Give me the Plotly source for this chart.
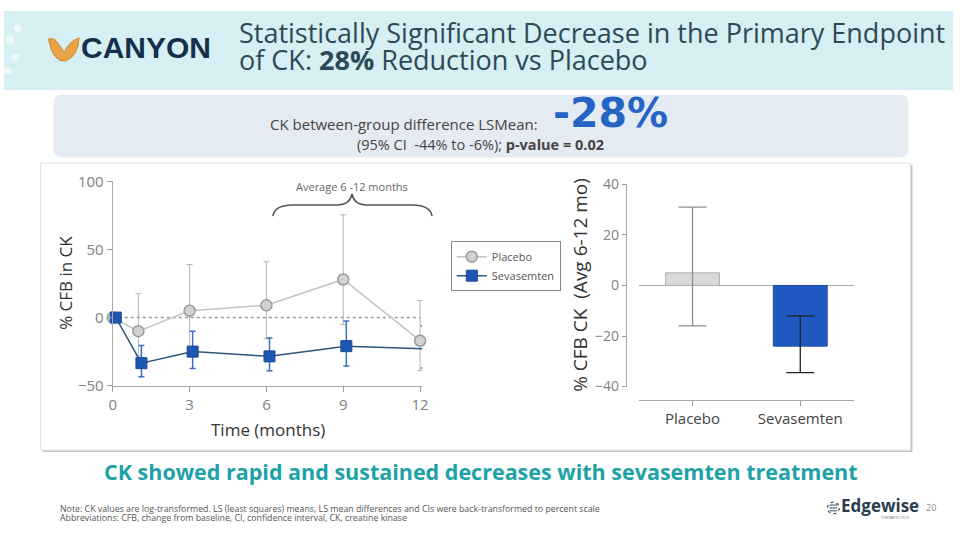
import plotly.graph_objects as go

W, H = 960, 541

# ---------------- data ----------------
months_placebo = [0, 1, 3, 6, 9, 12]
placebo_mean = [0, -10, 5, 9, 28, -17]
placebo_upper = [0, 17.5, 39, 41, 75.5, 12.5]
placebo_lower = [0, -28, -22, -15.5, -5, -39]

months_sev = [0.12, 1.12, 3.12, 6.12, 9.12, 12.14]
sev_mean = [0, -33.5, -25, -28.5, -21, -23]
sev_upper = [0, -20.5, -10, -15, -2.5, -6]
sev_lower = [0, -43.5, -37.5, -39, -35.5, -37]

x_ticks = [0, 3, 6, 9, 12]
y_ticks_line = [-50, 0, 50, 100]

bar_categories = ["Placebo", "Sevasemten"]
bar_values = [5, -24]
bar_upper = [31, -12]
bar_lower = [-16, -34.5]
y_ticks_bar = [-40, -20, 0, 20, 40]


def fx(x):
    return x / W


def fy(y):
    return 1 - y / H


def ppath(cmds):
    out = []
    for c in cmds:
        if isinstance(c, str):
            out.append(c)
        else:
            out.append(f"{fx(c[0]):.5f},{fy(c[1]):.5f}")
    return " ".join(out)


fig = go.Figure()

# ---------------- line chart ----------------
fig.add_trace(go.Scatter(
    x=months_placebo, y=placebo_mean, name="Placebo", mode="lines+markers",
    line=dict(color="#c4c4c4", width=1.5),
    marker=dict(symbol="circle", size=11, color="#d2d2d2", line=dict(color="#9a9a9a", width=1.5)),
    error_y=dict(type="data", symmetric=False,
                 array=[u - m for u, m in zip(placebo_upper, placebo_mean)],
                 arrayminus=[m - l for m, l in zip(placebo_mean, placebo_lower)],
                 color="#b5b5b5", thickness=1, width=3),
    cliponaxis=False, xaxis="x", yaxis="y",
))
fig.add_trace(go.Scatter(
    x=months_sev, y=sev_mean, name="Sevasemten", mode="lines+markers",
    line=dict(color="#30557a", width=1.5),
    marker=dict(symbol="square", size=11, color="#1f56b4", line=dict(color="#1a4a9a", width=1)),
    error_y=dict(type="data", symmetric=False,
                 array=[u - m for u, m in zip(sev_upper, sev_mean)],
                 arrayminus=[m - l for m, l in zip(sev_mean, sev_lower)],
                 color="#3b6fc4", thickness=1.5, width=3),
    cliponaxis=False, xaxis="x", yaxis="y",
))

# ---------------- bar chart ----------------
bar_fill = ["#d9d9d9", "#1f58c1"]
bar_line = ["#b0b0b0", "#1a4ea8"]
err_col = ["#8f8f8f", "#222222"]
for i, cat in enumerate(bar_categories):
    fig.add_trace(go.Bar(
        x=[cat], y=[bar_values[i]], width=0.5, showlegend=False,
        marker=dict(color=bar_fill[i], line=dict(color=bar_line[i], width=1)),
        error_y=dict(type="data", symmetric=False,
                     array=[bar_upper[i] - bar_values[i]],
                     arrayminus=[bar_values[i] - bar_lower[i]],
                     color=err_col[i], thickness=1.3, width=14),
        xaxis="x2", yaxis="y2", cliponaxis=False,
    ))

shapes = []
# header band
shapes.append(dict(type="rect", xref="paper", yref="paper", x0=0, x1=1, y0=fy(82), y1=1,
                   fillcolor="#d5eff3", line=dict(width=0), layer="below"))
# summary box (rounded)
r = 9
x0, x1, y0, y1 = 50, 915, 87, 152
shapes.append(dict(type="path", xref="paper", yref="paper", layer="below",
                   path=ppath(["M", (x0 + r, y0), "L", (x1 - r, y0), "Q", (x1, y0), (x1, y0 + r),
                               "L", (x1, y1 - r), "Q", (x1, y1), (x1 - r, y1),
                               "L", (x0 + r, y1), "Q", (x0, y1), (x0, y1 - r),
                               "L", (x0, y0 + r), "Q", (x0, y0), (x0 + r, y0), "Z"]),
                   fillcolor="#e4ebf3", line=dict(width=0)))
# panel shadow + panel
shapes.append(dict(type="rect", xref="paper", yref="paper", layer="below",
                   x0=fx(39), x1=fx(919), y0=fy(458), y1=fy(160),
                   fillcolor="#c4c4c4", line=dict(width=0)))
shapes.append(dict(type="rect", xref="paper", yref="paper", layer="below",
                   x0=fx(37), x1=fx(917), y0=fy(456), y1=fy(158),
                   fillcolor="#ffffff", line=dict(color="#e2e2e2", width=1)))
# dotted zero line in line chart
shapes.append(dict(type="line", xref="x", yref="y", x0=0, x1=12, y0=0, y1=0,
                   line=dict(color="#9a9a9a", width=1.5, dash="dot"), layer="below"))
# brace
shapes.append(dict(type="path", xref="paper", yref="paper",
                   path=ppath(["M", (272, 213), "Q", (274, 201.5), (292, 201.5), "L", (337, 201.5),
                               "Q", (350, 201.5), (352, 190), "Q", (354, 201.5), (367, 201.5),
                               "L", (413, 201.5), "Q", (431, 201.5), (433, 213)]),
                   line=dict(color="#555555", width=1.6)))
# CANYON logo icon
shapes.append(dict(type="path", xref="paper", yref="paper",
                   path=ppath(["M", (45, 29), "Q", (51, 27), (55, 34), "L", (61, 43),
                               "Q", (66, 31), (76, 28), "Q", (75, 47), (62, 52),
                               "Q", (49, 53), (45, 29), "Z"]),
                   fillcolor="#e9a346", line=dict(color="#d08a30", width=1)))
# faint network decoration
for (cx, cy) in [(6, 30), (12, 48), (4, 62), (14, 18)]:
    shapes.append(dict(type="circle", xref="paper", yref="paper",
                       x0=fx(cx - 4), x1=fx(cx + 4), y0=fy(cy + 4), y1=fy(cy - 4),
                       fillcolor="rgba(255,255,255,0.6)", line=dict(width=0)))
# Edgewise icon
shapes.append(dict(type="circle", xref="paper", yref="paper",
                   x0=fx(833), x1=fx(845), y0=fy(522), y1=fy(510),
                   line=dict(color="#3a4f60", width=1.2, dash="dot")))
for yy in [513, 516, 519]:
    shapes.append(dict(type="line", xref="paper", yref="paper",
                       x0=fx(835), x1=fx(843), y0=fy(yy), y1=fy(yy),
                       line=dict(color="#3a4f60", width=1)))

annotations = []


def txt(text, x, y, size, color, xanchor="left", family="Open Sans", angle=0, yanchor="middle"):
    annotations.append(dict(text=text, x=fx(x), y=fy(y), xref="paper", yref="paper",
                            xanchor=xanchor, yanchor=yanchor, showarrow=False, textangle=angle,
                            borderpad=0,
                            font=dict(size=size, color=color, family=family)))


# header
txt("<b>CANYON</b>", 77, 38, 30, "#15304a", family="Liberation Sans")
txt("Statistically Significant Decrease in the Primary Endpoint", 237, 22, 27, "#2c4a56")
txt("of CK: <b>28%</b> Reduction vs Placebo", 237, 50, 27, "#2c4a56")
# summary box
txt("CK between-group difference LSMean:", 541, 117, 15, "#444444", xanchor="right")
txt("<b>-28%</b>", 614, 106, 41, "#2563c4", xanchor="center", family="DejaVu Sans")
txt("(95% CI  -44% to -6%); <b>p-value = 0.02</b>", 482, 139, 14.5, "#444444", xanchor="center")
# line chart text
txt("Average 6 -12 months", 352, 182, 11, "#666666", xanchor="center")
txt("% CFB in CK", 62, 282, 17, "#333333", xanchor="center", angle=-90)
txt("Time (months)", 267, 435, 17, "#333333", xanchor="center")
# bar chart y title
txt("% CFB CK\u00a0 (Avg 6-12 mo)", 582, 284, 19, "#333333", xanchor="center", angle=-90)
# bottom messages
txt("<b>CK showed rapid and sustained decreases with sevasemten treatment</b>", 483, 478, 21.5,
    "#1ca2a7", xanchor="center")
txt("Note: CK values are log-transformed. LS (least squares) means, LS mean differences and CIs were back-transformed to percent scale",
    56, 517, 8.8, "#555555")
txt("Abbreviations: CFB, change from baseline, CI, confidence interval, CK, creatine kinase",
    56, 526, 8.8, "#555555")
txt("<b>Edgewise</b>", 846, 514, 17, "#2b3d4f")
txt("THERAPEUTICS", 901, 526, 4, "#6a7a88", xanchor="center")
txt("20", 938, 516, 9, "#8a8a8a", xanchor="center")

axis_common = dict(showgrid=False, zeroline=False, ticks="outside", ticklen=5,
                   tickcolor="#9a9a9a", linecolor="#a8a8a8", showline=True, linewidth=1.2)

fig.update_layout(
    width=W, height=H, margin=dict(l=0, r=0, t=0, b=0),
    paper_bgcolor="#ffffff", plot_bgcolor="rgba(0,0,0,0)",
    font=dict(family="Open Sans", color="#444444"),
    barmode="overlay",
    shapes=shapes, annotations=annotations,
    xaxis=dict(domain=[fx(110), fx(423)], range=[0, 12.08], tickvals=x_ticks,
               tickfont=dict(size=15, color="#808080"), anchor="y", **axis_common),
    yaxis=dict(domain=[fy(389), fy(177)], range=[-50, 100], tickvals=y_ticks_line,
               tickfont=dict(size=15, color="#808080"), anchor="x", **axis_common),
    xaxis2=dict(domain=[fx(642), fx(860)], range=[-0.5, 1.5], type="category",
                anchor="free", position=fy(404),
                tickfont=dict(size=15, color="#444444"), **axis_common),
    yaxis2=dict(domain=[fy(390), fy(180)], range=[-40, 40], tickvals=y_ticks_bar,
                anchor="free", position=fx(629),
                tickfont=dict(size=14, color="#808080"),
                showgrid=False, ticks="outside", ticklen=4, tickcolor="#9a9a9a",
                linecolor="#a8a8a8", showline=True, linewidth=1.2,
                zeroline=True, zerolinecolor="#a8a8a8", zerolinewidth=1.2),
    legend=dict(x=fx(452), y=fy(239), xanchor="left", yanchor="top",
                bordercolor="#888888", borderwidth=1, bgcolor="rgba(255,255,255,1)",
                font=dict(size=11, color="#555555"), tracegroupgap=0, itemwidth=30),
    showlegend=True,
)

fig.write_html("out.html")
